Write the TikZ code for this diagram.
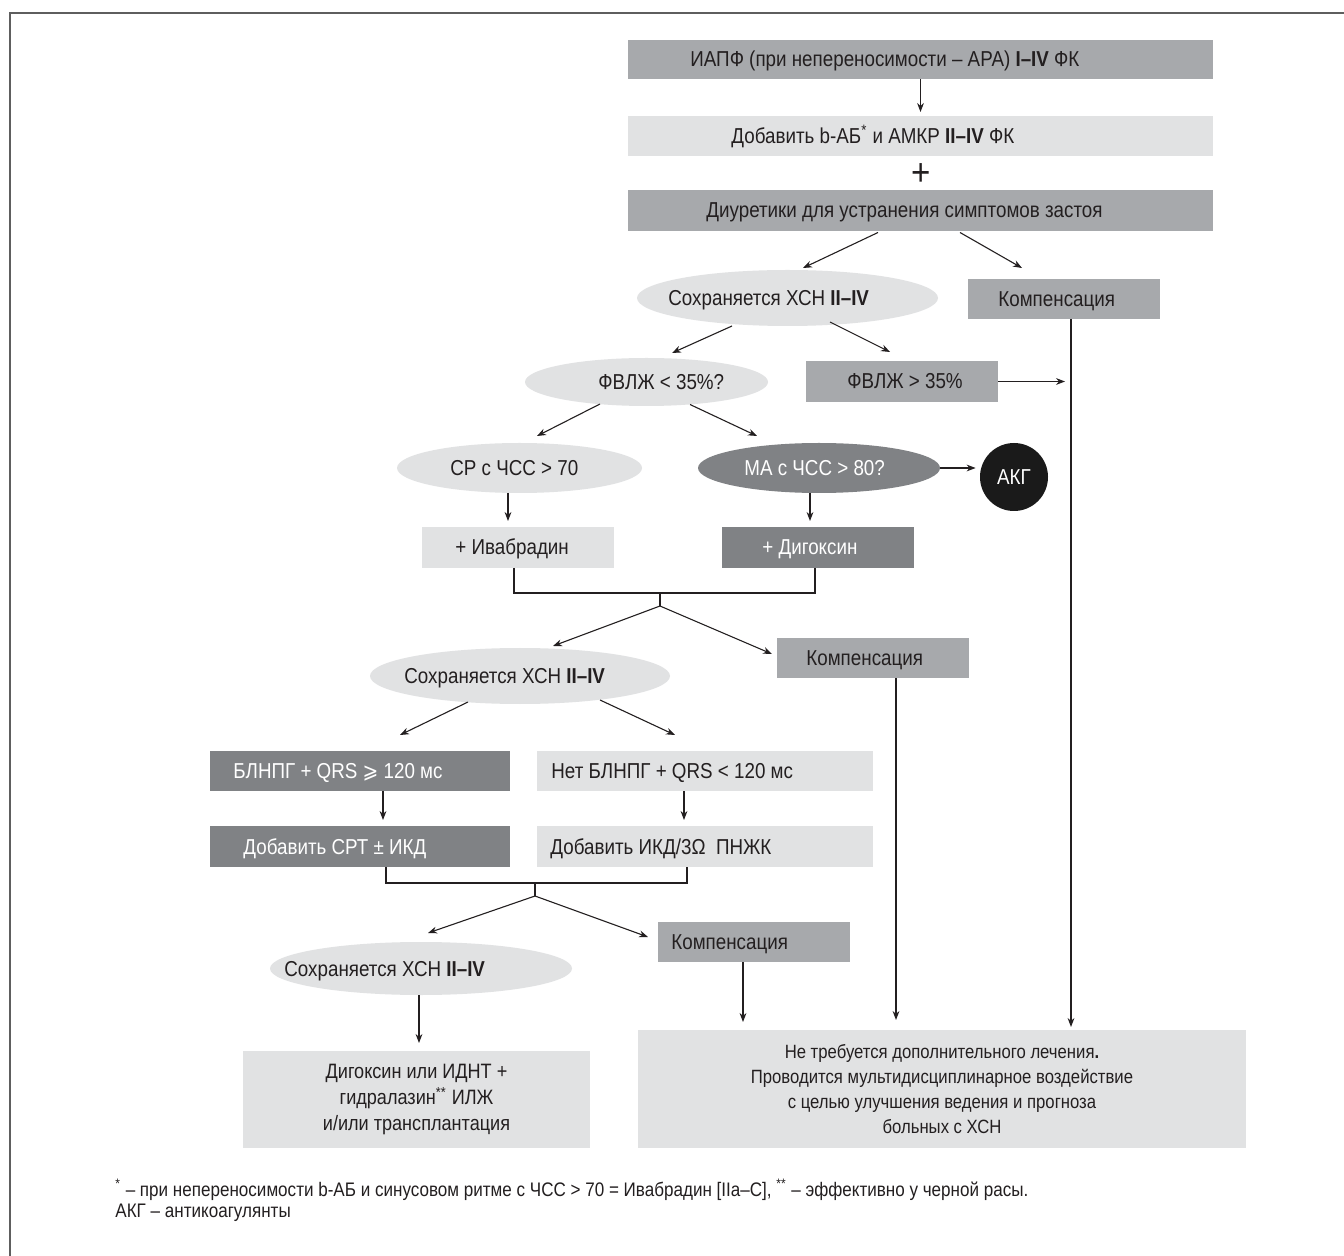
\documentclass[tikz,border=0pt]{standalone}
\usepackage{fontspec}
\setmainfont{Liberation Sans}[FakeStretch=0.87]
\newfontfamily\symfont{DejaVu Sans}[FakeStretch=0.87]
\usetikzlibrary{shapes.geometric,arrows.meta,calc}
\definecolor{gmed}{HTML}{A7A9AC}
\definecolor{glight}{HTML}{E1E2E3}
\definecolor{gdark}{HTML}{808285}
\definecolor{blk}{HTML}{1A1A1A}
\definecolor{ink}{HTML}{231F20}
\definecolor{framec}{HTML}{5E5E5E}
\begin{document}
\begin{tikzpicture}[x=0.5pt,y=-0.5pt,
  font=\fontsize{10.8}{13}\selectfont,
  box/.style={rectangle, inner sep=0pt, outer sep=0pt, draw=none},
  ell/.style={ellipse, inner sep=0pt, outer sep=0pt, draw=none},
  txt/.style={anchor=base west, inner sep=0pt, text=ink},
  wtxt/.style={anchor=base west, inner sep=0pt, text=white},
  arr/.style={-{Stealth[length=4.5pt,width=3.4pt]}, line width=0.55pt, draw=ink},
  ln/.style={line width=0.55pt, draw=ink}]
\useasboundingbox (0,0) rectangle (1344,1256);
\fill[white] (0,0) rectangle (1344,1256);
\draw[framec, line width=1.1pt] (10,1256) -- (10,13) -- (1344,13);

% boxes
\node[box, fill=gmed, minimum width=292.5pt, minimum height=19.5pt] (b1) at (920.5,59.5) {};
\node[box, fill=glight, minimum width=292.5pt, minimum height=20pt] (b2) at (920.5,136) {};
\node[inner sep=0pt, text=ink, font=\fontsize{19}{19}\selectfont] (plus) at (921,175) {+};
\node[box, fill=gmed, minimum width=292.5pt, minimum height=20.5pt] (b3) at (920.5,210.5) {};
\node[ell, fill=glight, minimum width=150.5pt, minimum height=28pt] (e1) at (787.5,298) {};
\node[box, fill=gmed, minimum width=96pt, minimum height=20pt] (k1) at (1064,299) {};
\node[ell, fill=glight, minimum width=121.5pt, minimum height=24pt] (e2) at (646.5,382) {};
\node[box, fill=gmed, minimum width=96pt, minimum height=20.5pt] (f35) at (902,381.5) {};
\node[ell, fill=glight, minimum width=122.5pt, minimum height=25pt] (e3) at (519.5,468) {};
\node[ell, fill=gdark, minimum width=121pt, minimum height=25pt] (e4) at (819,468) {};
\node[circle, fill=blk, inner sep=0pt, minimum size=34pt, text=white] (akg) at (1014,477) {АКГ};
\node[box, fill=glight, minimum width=96pt, minimum height=20.5pt] (iva) at (518,547.5) {};
\node[box, fill=gdark, minimum width=96pt, minimum height=20.5pt] (dig) at (818,547.5) {};
\node[ell, fill=glight, minimum width=150pt, minimum height=28pt] (e5) at (520,676) {};
\node[box, fill=gmed, minimum width=96pt, minimum height=20pt] (k2) at (873,658) {};
\node[box, fill=gdark, minimum width=150pt, minimum height=20pt] (bl1) at (360,771) {};
\node[box, fill=glight, minimum width=168pt, minimum height=20pt] (bl2) at (705,771) {};
\node[box, fill=gdark, minimum width=150pt, minimum height=20.5pt] (crt) at (360,846.5) {};
\node[box, fill=glight, minimum width=168pt, minimum height=20.5pt] (ikd) at (705,846.5) {};
\node[ell, fill=glight, minimum width=151pt, minimum height=26.5pt] (e6) at (421,968.5) {};
\node[box, fill=gmed, minimum width=96pt, minimum height=20pt] (k3) at (754,942) {};
\node[box, fill=glight, minimum width=304pt, minimum height=59pt, align=center, text=ink,
      font=\fontsize{9.6}{12.5}\selectfont] (fin) at (942,1089)
  {Не требуется дополнительного лечения\textbf{.}\\Проводится мультидисциплинарное воздействие\\с целью улучшения ведения и прогноза\\больных с ХСН};
\node[box, fill=glight, minimum width=173.5pt, minimum height=48.5pt, align=center, text=ink,
      font=\fontsize{10.4}{13}\selectfont] (digf) at (416.5,1099.5)
  {Дигоксин или ИДНТ +\\гидралазин\textsuperscript{**} ИЛЖ\\и/или трансплантация};

% texts
\node[txt] (b1t) at ($(b1.west)+(62,7.5)$) {ИАПФ (при непереносимости – АРА) \textbf{I–IV} ФК};
\node[txt] (b2t) at ($(b2.west)+(103,7.5)$) {Добавить b-АБ\textsuperscript{*} и АМКР \textbf{II–IV} ФК};
\node[txt] (b3t) at ($(b3.west)+(78,7.5)$) {Диуретики для устранения симптомов застоя};
\node[txt] (e1t) at ($(e1.west)+(31,7.5)$) {Сохраняется ХСН \textbf{II–IV}};
\node[txt] (k1t) at ($(k1.west)+(30,7.5)$) {Компенсация};
\node[txt] (e2t) at ($(e2.west)+(73,7.5)$) {ФВЛЖ < 35\%?};
\node[txt] (f35t) at ($(f35.west)+(41,7.5)$) {ФВЛЖ > 35\%};
\node[txt] (e3t) at ($(e3.west)+(53,7.5)$) {СР с ЧСС > 70};
\node[wtxt] (e4t) at ($(e4.west)+(46,7.5)$) {МА с ЧСС > 80?};
\node[txt] (ivat) at ($(iva.west)+(33,7.5)$) {+ Ивабрадин};
\node[wtxt] (digt) at ($(dig.west)+(40,7.5)$) {+ Дигоксин};
\node[txt] (e5t) at ($(e5.west)+(34,7.5)$) {Сохраняется ХСН \textbf{II–IV}};
\node[txt] (k2t) at ($(k2.west)+(29,7.5)$) {Компенсация};
\node[wtxt] (bl1t) at ($(bl1.west)+(23,7.5)$) {БЛНПГ + QRS {\symfont ⩾} 120 мс};
\node[txt] (bl2t) at ($(bl2.west)+(14,7.5)$) {Нет БЛНПГ + QRS < 120 мс};
\node[wtxt] (crtt) at ($(crt.west)+(33,7.5)$) {Добавить СРТ ± ИКД};
\node[txt] (ikdt) at ($(ikd.west)+(13,7.5)$) {Добавить ИКД/3Ω\ \ ПНЖК};
\node[txt] (e6t) at ($(e6.west)+(14,7.5)$) {Сохраняется ХСН \textbf{II–IV}};
\node[txt] (k3t) at ($(k3.west)+(13,7.5)$) {Компенсация};

% footnotes
\node[txt, font=\fontsize{9.8}{11}\selectfont] (fn1) at (115,1196)
  {\textsuperscript{*} – при непереносимости b-АБ и синусовом ритме с ЧСС > 70 = Ивабрадин [IIa–C], \textsuperscript{**} – эффективно у черной расы.};
\node[txt, font=\fontsize{9.8}{11}\selectfont] (fn2) at (115,1217) {АКГ – антикоагулянты};

% connectors
\draw[arr, shorten >=2pt] (b1.south) -- (b2.north);
\draw[arr] ($(b3.south)+(-42.5,1.5)$) -- ($(e1.north)+(15.5,-2)$);
\draw[arr] ($(b3.south)+(39.5,1.5)$) -- ($(k1.north)+(-42,-11)$);
\draw[arr] ($(e1.south)+(-55.5,0)$) -- ($(e2.north)+(25.5,-5)$);
\draw[arr] ($(e1.south)+(42.5,-4)$) -- ($(f35.north)+(-12,-9)$);
\draw[arr] ($(e2.south)+(-46.5,-2)$) -- ($(e3.north)+(17.5,-7)$);
\draw[arr] ($(e2.south)+(43.5,-1.5)$) -- ($(e4.north)+(-62,-7)$);
\draw[arr, shorten >=2pt] (e4.east) -- (e4.east -| akg.west);
\draw[arr, shorten >=3pt] ($(e3.south)+(-11.5,0)$) -- ($(iva.north)+(-10,0)$);
\draw[arr, shorten >=3pt] ($(e4.south)+(-9,0)$) -- ($(dig.north)+(-8,0)$);

\coordinate (j1) at (660,593);
\draw[ln] ($(iva.south)+(-4,0)$) |- (j1) -| ($(dig.south)+(-3,0)$);
\draw[ln] (j1) -- ++(0,13) coordinate (j1b);
\draw[arr] (j1b) -- ($(e5.north)+(33,-2)$);
\draw[arr] (j1b) -- ($(k2.west)+(-5,-4)$);

\draw[arr] ($(e5.south)+(-52,-2)$) -- ($(bl1.north)+(40,-16)$);
\draw[arr] ($(e5.south)+(80,-4)$) -- ($(bl2.north)+(-30,-16)$);
\draw[arr, shorten >=3pt] ($(bl1.south)+(23,0)$) -- ($(crt.north)+(23,0)$);
\draw[arr, shorten >=3pt] ($(bl2.south)+(-21,0)$) -- ($(ikd.north)+(-21,0)$);

\coordinate (j2) at (535,883);
\draw[ln] ($(crt.south)+(26,0)$) |- (j2) -| ($(ikd.south)+(-18,0)$);
\draw[ln] (j2) -- ++(0,13) coordinate (j2b);
\draw[arr] (j2b) -- ($(e6.north)+(7,-9)$);
\draw[arr] (j2b) -- ($(k3.west)+(-10,-5)$);

\coordinate (k3o) at ($(k3.south)+(-11,0)$);
\draw[arr, shorten >=4pt] (k3o) -- (k3o |- fin.north);
\coordinate (e6o) at ($(e6.south)+(-2,0)$);
\draw[arr, shorten >=4pt] (e6o) -- (e6o |- digf.north);
\coordinate (k2o) at ($(k2.south)+(23,0)$);
\draw[arr, shorten >=5pt] (k2o) -- (k2o |- fin.north);
\coordinate (k1o) at ($(k1.south)+(7,0)$);
\draw[arr, shorten >=1.5pt] (k1o) -- (k1o |- fin.north);
\draw[arr, shorten >=3pt] (f35.east) -- (f35.east -| k1o);
\end{tikzpicture}
\end{document}
